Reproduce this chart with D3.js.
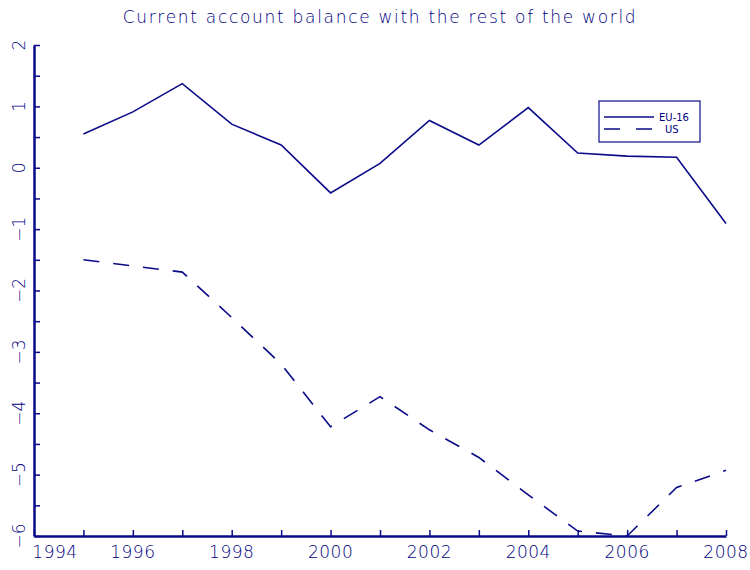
<!DOCTYPE html>
<head>
  <meta charset='utf-8'>
  <style>
    body { margin: 0; background: #fff; }
    svg text {
      font-family: 'DejaVu Sans', sans-serif;
      font-weight: 200;
      fill: #000080;
    }
    .axis path, .axis line { stroke: #0a0a8a; }
    .line { fill: none; stroke: #0a0a8a; stroke-width: 1.6px; }
  </style>
</head>
<body>
<script src='https://d3js.org/d3.v7.min.js'></script>
<script>
  var
    W = 750,
    H = 570,
    TITLE = 'Current account balance with the rest of the world',
    years = [1995, 1996, 1997, 1998, 1999, 2000, 2001, 2002, 2003, 2004, 2005, 2006, 2007, 2008],
    eu16 = [0.55, 0.91, 1.37, 0.71, 0.37, -0.41, 0.07, 0.77, 0.37, 0.98, 0.24, 0.19, 0.17, -0.91],
    us = [-1.50, -1.60, -1.70, -2.44, -3.20, -4.22, -3.73, -4.27, -4.72, -5.33, -5.92, -6.00, -5.21, -4.93],
    seriesNames = ['EU-16', 'US'],
    xTickLabels = [1994, 1996, 1998, 2000, 2002, 2004, 2006, 2008],
    yTickLabels = [-6, -5, -4, -3, -2, -1, 0, 1, 2];

  var
    xScale = d3.scaleLinear().domain([1994, 2008]).range([34, 726]),
    yScale = d3.scaleLinear().domain([-6, 2]).range([536, 45]),
    line = d3.line()
      .x(function(d) { return xScale(d.x); })
      .y(function(d) { return yScale(d.y); });

  var svg = d3.select('body').append('svg')
    .attr('width', W)
    .attr('height', H);

  svg.append('text')
    .attr('x', 380)
    .attr('y', 23)
    .attr('text-anchor', 'middle')
    .style('font-size', '17px')
    .style('letter-spacing', '1.7px')
    .text(TITLE);

  // y axis: ticks every half unit, pointing inward
  var yAxis = svg.append('g')
    .attr('class', 'axis')
    .attr('transform', 'translate(' + xScale.range()[0] + ',0)')
    .call(d3.axisRight(yScale)
      .tickValues(d3.range(-6, 2.01, 0.5))
      .tickSize(6)
      .tickSizeOuter(0)
      .tickFormat(''));
  yAxis.select('path').attr('stroke-width', 2.5);
  yAxis.selectAll('line').attr('stroke-width', 1.5);

  svg.selectAll('.ylab')
    .data(yTickLabels)
    .enter().append('text')
    .attr('class', 'ylab')
    .attr('transform', function(d) { return 'translate(25,' + yScale(d) + ') rotate(-90)'; })
    .attr('text-anchor', 'middle')
    .style('font-size', '17px')
    .text(function(d) { return d < 0 ? '\u2212' + Math.abs(d) : d; });

  // x axis: ticks every year, pointing up
  var xAxis = svg.append('g')
    .attr('class', 'axis')
    .attr('transform', 'translate(0,' + yScale.range()[0] + ')')
    .call(d3.axisTop(xScale)
      .tickValues(d3.range(1994, 2009))
      .tickSize(6)
      .tickSizeOuter(0)
      .tickFormat(''));
  xAxis.select('path').attr('stroke-width', 2.5);
  xAxis.selectAll('line').attr('stroke-width', 1.5);

  svg.selectAll('.xlab')
    .data(xTickLabels)
    .enter().append('text')
    .attr('class', 'xlab')
    .attr('x', function(d, i) { return i === 0 ? xScale(d) + 21 : xScale(d); })
    .attr('y', 558)
    .attr('text-anchor', 'middle')
    .style('font-size', '17px')
    .style('letter-spacing', '0.5px')
    .text(function(d) { return d; });

  var euData = years.map(function(y, i) { return {x: y, y: eu16[i]}; }),
      usData = years.map(function(y, i) { return {x: y, y: us[i]}; });

  svg.append('path')
    .datum(euData)
    .attr('class', 'line')
    .attr('d', line);

  svg.append('path')
    .datum(usData)
    .attr('class', 'line')
    .attr('stroke-dasharray', '16,14')
    .attr('d', line);

  // legend
  var legend = svg.append('g').attr('transform', 'translate(599,101)');
  legend.append('rect')
    .attr('width', 101)
    .attr('height', 41)
    .attr('fill', 'none')
    .attr('stroke', '#0a0a8a')
    .attr('stroke-width', 1.2);
  seriesNames.forEach(function(name, i) {
    var yy = 16 + i * 12;
    legend.append('line')
      .attr('x1', 5).attr('x2', 55)
      .attr('y1', yy).attr('y2', yy)
      .attr('class', 'line')
      .attr('stroke-dasharray', i === 1 ? '16,16' : null);
    legend.append('text')
      .attr('x', i === 0 ? 60 : 66)
      .attr('y', yy + 4)
      .style('font-size', '10px')
      .style('font-weight', 'normal')
      .text(name);
  });
</script>
</body>
